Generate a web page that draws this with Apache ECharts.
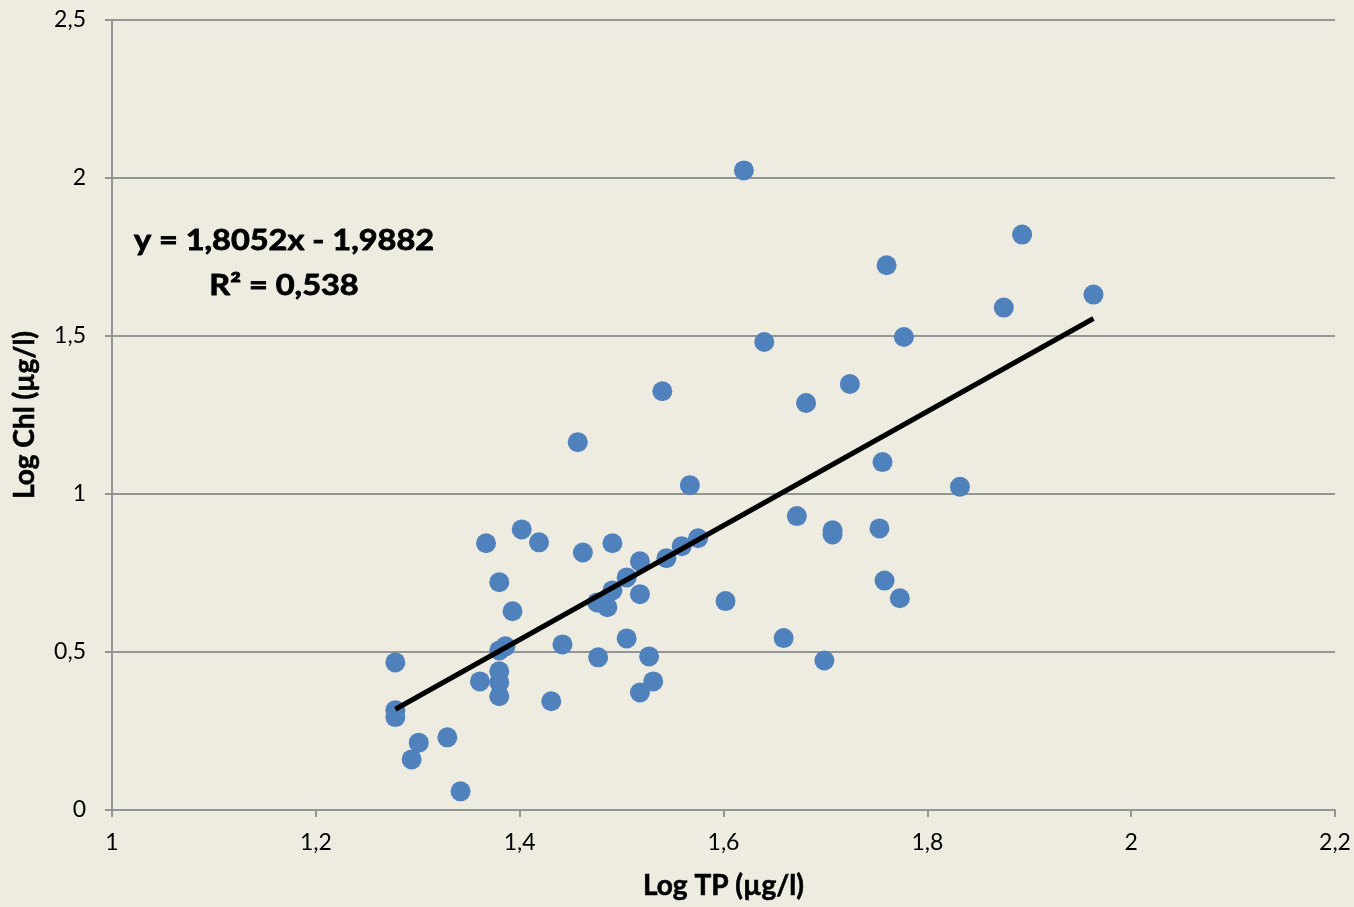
<!DOCTYPE html>
<html>
<head>
<meta charset="utf-8">
<title>Log Chl vs Log TP</title>
<script src="https://cdn.jsdelivr.net/npm/echarts@6/dist/echarts.min.js"></script>
<style>
  html, body { margin: 0; padding: 0; background: #EEEBE0; }
  #chart { width: 1354px; height: 907px; }
</style>
</head>
<body>
<div id="chart"></div>
<script>
// Log total phosphorus (µg/l) per sample
const logTP = [
  1.278, 1.278, 1.278, 1.294, 1.301, 1.329, 1.342, 1.361, 1.367, 1.380,
  1.380, 1.380, 1.380, 1.380, 1.386, 1.393, 1.402, 1.419, 1.431, 1.442,
  1.457, 1.462, 1.476, 1.477, 1.486, 1.491, 1.491, 1.505, 1.505, 1.518,
  1.518, 1.518, 1.527, 1.531, 1.540, 1.544, 1.559, 1.567, 1.575, 1.602,
  1.620, 1.640, 1.659, 1.672, 1.681, 1.699, 1.707, 1.707, 1.724, 1.753,
  1.756, 1.758, 1.760, 1.773, 1.777, 1.832, 1.875, 1.893, 1.963
];
// Log chlorophyll (µg/l) per sample
const logChl = [
  0.467, 0.316, 0.294, 0.160, 0.213, 0.230, 0.059, 0.407, 0.844, 0.721,
  0.505, 0.439, 0.404, 0.360, 0.518, 0.629, 0.888, 0.847, 0.344, 0.524,
  1.164, 0.815, 0.657, 0.483, 0.642, 0.844, 0.695, 0.736, 0.543, 0.787,
  0.683, 0.372, 0.486, 0.407, 1.325, 0.797, 0.835, 1.028, 0.860, 0.661,
  2.024, 1.481, 0.544, 0.930, 1.288, 0.473, 0.885, 0.872, 1.348, 0.891,
  1.101, 0.726, 1.724, 0.670, 1.497, 1.023, 1.590, 1.821, 1.631
];
// Linear fit
const slope = 1.8052;
const intercept = -1.9882;
const rSquared = 0.538;
// Axis ticks
const xTicks = [1, 1.2, 1.4, 1.6, 1.8, 2, 2.2];
const yTicks = [0, 0.5, 1, 1.5, 2, 2.5];

const points = logTP.map((x, i) => [x, logChl[i]]);
const xMin = Math.min(...logTP);
const xMax = Math.max(...logTP);
const trend = [xMin, xMax].map(x => [x, slope * x + intercept]);

const comma = v => String(v).replace('.', ',');
const FONT = 'Lato, "Open Sans", sans-serif';
const AXIS_GREY = '#959595';

// Equation label, one text element per line, centred on the same x
const eqStyle = (text) => ({
  text: text,
  font: 'bold 28px ' + FONT,
  fill: '#000',
  stroke: '#000',
  lineWidth: 0.8,
  align: 'center',
  verticalAlign: 'middle',
  textAlign: 'center',
  textVerticalAlign: 'middle'
});

const axisNameStyle = {
  fontFamily: FONT, fontSize: 28, fontWeight: 'bold', color: '#000',
  textBorderColor: '#000', textBorderWidth: 0.6
};

const chart = echarts.init(document.getElementById('chart'), null, { renderer: 'canvas' });
chart.setOption({
  backgroundColor: '#EEEBE0',
  animation: false,
  textStyle: { fontFamily: FONT },
  grid: { left: 112, right: 19, top: 20, bottom: 97, containLabel: false },
  xAxis: {
    type: 'value',
    min: xTicks[0],
    max: xTicks[xTicks.length - 1],
    interval: 0.2,
    name: 'Log TP (µg/l)',
    nameLocation: 'middle',
    nameGap: 62,
    nameTextStyle: axisNameStyle,
    axisLine: { show: true, onZero: false, lineStyle: { color: AXIS_GREY, width: 2 } },
    axisTick: { show: true, length: 7, lineStyle: { color: AXIS_GREY, width: 2 } },
    axisLabel: {
      margin: 21, fontFamily: FONT, fontSize: 23, color: '#000',
      formatter: v => comma(+v.toFixed(1))
    },
    splitLine: { show: false }
  },
  yAxis: {
    type: 'value',
    min: yTicks[0],
    max: yTicks[yTicks.length - 1],
    interval: 0.5,
    name: 'Log Chl (µg/l)',
    nameLocation: 'middle',
    nameGap: 73,
    nameTextStyle: axisNameStyle,
    axisLine: { show: true, onZero: false, lineStyle: { color: AXIS_GREY, width: 2 } },
    axisTick: { show: true, length: 7, lineStyle: { color: AXIS_GREY, width: 2 } },
    axisLabel: {
      margin: 26, fontFamily: FONT, fontSize: 23, color: '#000',
      formatter: v => comma(+v.toFixed(1))
    },
    splitLine: { show: true, lineStyle: { color: AXIS_GREY, width: 2 } }
  },
  series: [
    {
      type: 'scatter',
      data: points,
      symbol: 'circle',
      symbolSize: 20,
      itemStyle: { color: '#4F81BD', opacity: 1 },
      z: 2
    },
    {
      type: 'line',
      data: trend,
      showSymbol: false,
      symbol: 'none',
      lineStyle: { color: '#000', width: 5 },
      z: 3
    }
  ],
  graphic: [
    {
      type: 'text',
      x: 284,
      y: 241,
      scaleX: 1.16,
      style: eqStyle('y = ' + comma(slope) + 'x - ' + comma(Math.abs(intercept)))
    },
    {
      type: 'text',
      x: 284,
      y: 286,
      scaleX: 1.16,
      style: eqStyle('R² = ' + comma(rSquared))
    }
  ]
});
</script>
</body>
</html>
